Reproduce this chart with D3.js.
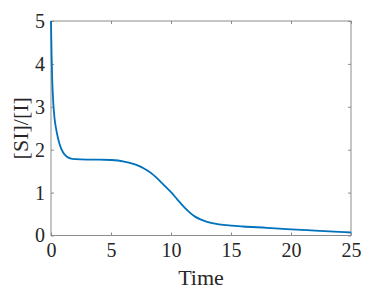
<!DOCTYPE html>
<html>
<head>
<meta charset="utf-8">
<script src="https://cdn.jsdelivr.net/npm/d3@7"></script>
<style>
  body { margin: 0; background: #fff; }
  text { font-family: "Liberation Serif", "Times New Roman", serif; fill: #262626; }
</style>
</head>
<body>
<svg id="chart" width="388" height="291"></svg>
<script>
// [SI]/[I] ratio over time

var times = [0, 0.05, 0.1, 0.2, 0.3, 0.45, 0.6, 0.8, 1.0, 1.3, 1.6, 2, 3, 4, 5, 6, 7, 7.5,
             8, 8.5, 9, 9.5, 10, 10.5, 11, 11.5, 12, 12.5, 13, 14, 15, 16, 18, 20, 22, 24, 25];
var ratio = [5.0, 4.2, 3.65, 3.05, 2.72, 2.45, 2.25, 2.06, 1.94, 1.84, 1.80, 1.78, 1.77, 1.77, 1.76,
             1.73, 1.66, 1.60, 1.52, 1.42, 1.29, 1.15, 1.01, 0.85, 0.69, 0.55, 0.44, 0.37, 0.32,
             0.26, 0.23, 0.21, 0.18, 0.145, 0.115, 0.085, 0.07];
var xTicks = [0, 5, 10, 15, 20, 25];
var yTicks = [0, 1, 2, 3, 4, 5];

var svg = d3.select("#chart");
// note: "top" is taken by window.top, so use plot* names
var plotLeft = 51, plotRight = 351, plotTop = 21, plotBottom = 235.5;

var x = d3.scaleLinear().domain([0, 25]).range([plotLeft, plotRight]);
var y = d3.scaleLinear().domain([0, 5]).range([plotBottom, plotTop]);

var axisColor = "#8c8c8c";
var serif = "'Liberation Serif', 'Times New Roman', serif";

// box
svg.append("rect")
  .attr("x", plotLeft).attr("y", plotTop)
  .attr("width", plotRight - plotLeft).attr("height", plotBottom - plotTop)
  .attr("fill", "none").attr("stroke", axisColor).attr("stroke-width", 1);

var styleAxis = function (g) {
  g.attr("font-family", serif).attr("font-size", 20);
  g.select(".domain").remove();
  g.selectAll(".tick line").attr("stroke", axisColor);
  g.selectAll(".tick text")
    .style("font-size", "20px")
    .style("font-family", serif)
    .attr("fill", "#262626");
};

var fmt = d3.format("d");

svg.append("g").attr("transform", "translate(0," + plotBottom + ")")
  .call(d3.axisBottom(x).tickValues(xTicks).tickFormat(fmt).tickSize(-3).tickPadding(7))
  .call(styleAxis);
svg.append("g").attr("transform", "translate(0," + plotTop + ")")
  .call(d3.axisTop(x).tickValues(xTicks).tickSize(-3).tickFormat(""))
  .call(styleAxis);
svg.append("g").attr("transform", "translate(" + plotLeft + ",0)")
  .call(d3.axisLeft(y).tickValues(yTicks).tickFormat(fmt).tickSize(-3).tickPadding(6))
  .call(styleAxis);
svg.append("g").attr("transform", "translate(" + plotRight + ",0)")
  .call(d3.axisRight(y).tickValues(yTicks).tickSize(-3).tickFormat(""))
  .call(styleAxis);

var line = d3.line()
  .x(function (d, i) { return x(times[i]); })
  .y(function (d) { return y(d); })
  .curve(d3.curveMonotoneX);

svg.append("path")
  .datum(ratio)
  .attr("d", line)
  .attr("fill", "none")
  .attr("stroke", "#0072BD")
  .attr("stroke-width", 1.8);

svg.append("text")
  .attr("x", (plotLeft + plotRight) / 2).attr("y", 285)
  .attr("text-anchor", "middle")
  .style("font-size", "22px")
  .text("Time");

svg.append("text")
  .attr("transform", "translate(28," + ((plotTop + plotBottom) / 2) + ") rotate(-90)")
  .attr("text-anchor", "middle")
  .style("font-size", "22px")
  .text("[SI]/[I]");
</script>
</body>
</html>
